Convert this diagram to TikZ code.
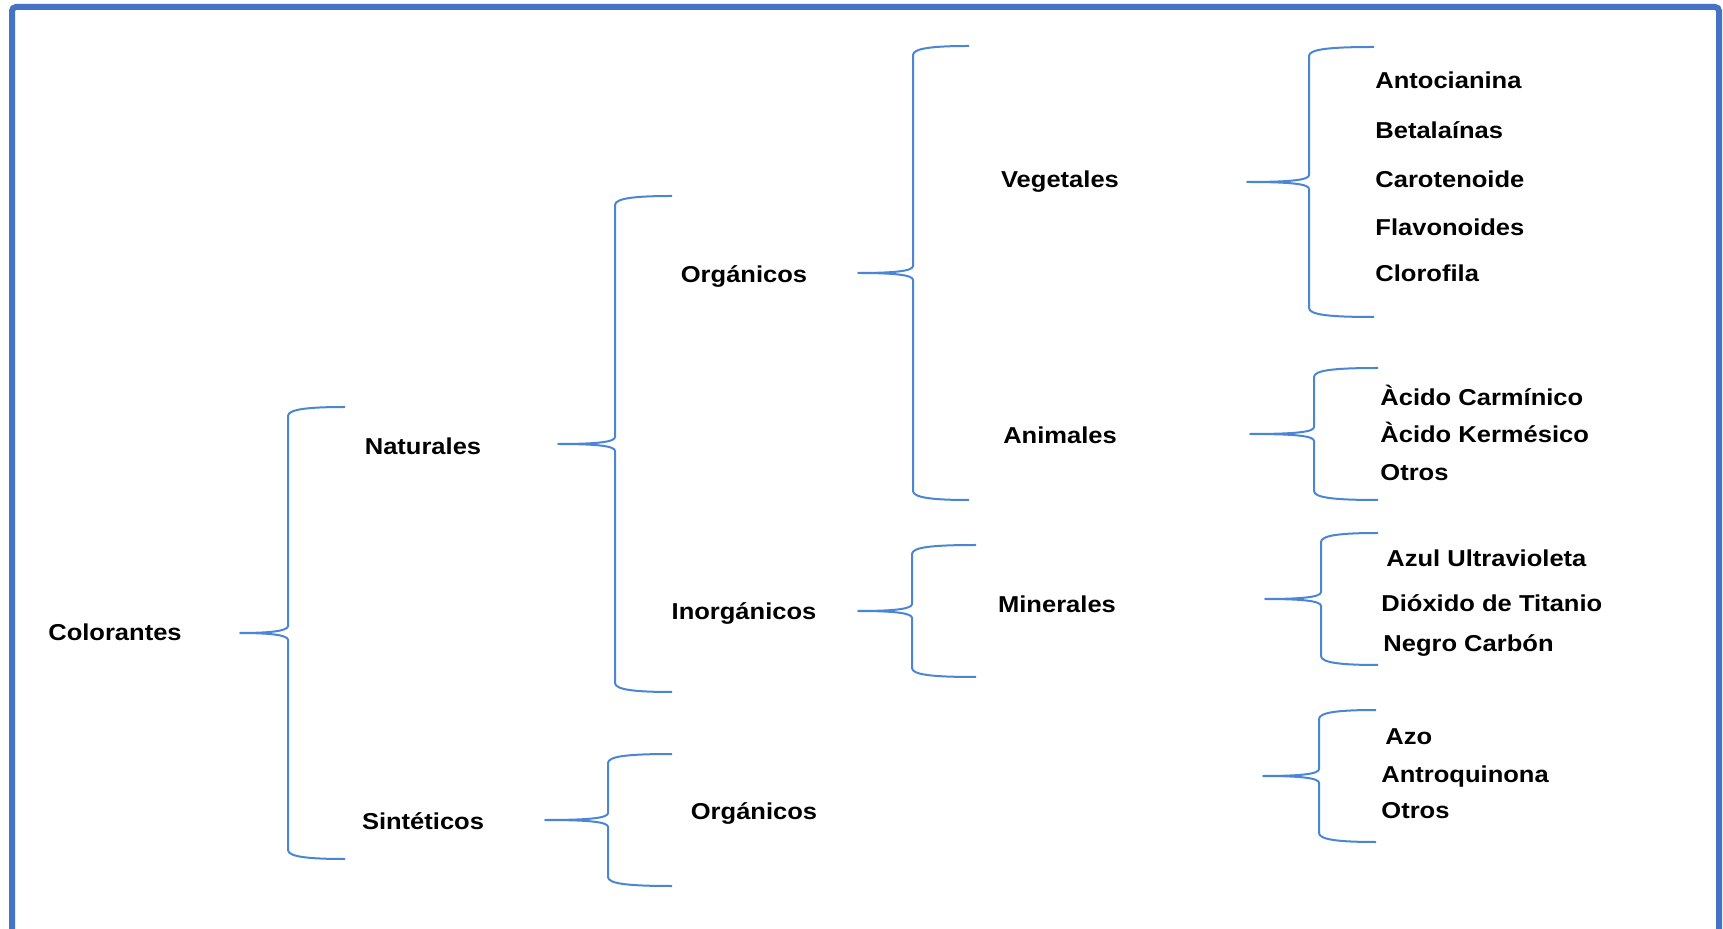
\documentclass[tikz,border=0pt]{standalone}
\usepackage{fontspec}
\setmainfont[FakeStretch=1.11]{Liberation Sans}
\usetikzlibrary{positioning,calc}

\definecolor{llavecolor}{RGB}{74,134,212}
\definecolor{marcocolor}{RGB}{68,114,196}

\tikzset{
  brace/.style={draw=llavecolor, line width=1pt, line join=round},
  txt/.style={inner sep=0pt, anchor=base, font=\fontsize{11.5}{14}\selectfont\bfseries},
  hoja/.style={txt, anchor=base west}
}

% #1 tip, #2 half height, #3 tip to spine, #4 spine to ends
\newcommand{\llave}[4]{%
  \draw[brace]
    ([shift={(#3+#4,-#2)}]#1) .. controls ([shift={(#3+22,-#2)}]#1) and ([shift={(#3,-#2+2)}]#1) .. ([shift={(#3,-#2+9)}]#1)
    -- ([shift={(#3,-7)}]#1) .. controls ([shift={(#3,-2)}]#1) and ([shift={(#3-18,0)}]#1) .. (#1)
    .. controls ([shift={(#3-18,0)}]#1) and ([shift={(#3,2)}]#1) .. ([shift={(#3,7)}]#1)
    -- ([shift={(#3,#2-9)}]#1) .. controls ([shift={(#3,#2-2)}]#1) and ([shift={(#3+22,#2)}]#1) .. ([shift={(#3+#4,#2)}]#1);}

\begin{document}
\begin{tikzpicture}[x=0.5pt, y=-0.5pt]
\useasboundingbox (0,0) rectangle (1723,929);
\clip (0,0) rectangle (1723,929);
\fill[white] (0,0) rectangle (1723,929);
\draw[marcocolor, line width=3pt, rounded corners=2pt] (12,7) rectangle (1719,980);

% tree
\node[txt] (colorantes)  at (115,641)  {Colorantes};
\node[txt] (naturales)   at (423,455)  {Naturales};
\node[txt] (sinteticos)  at (423,829)  {Sintéticos};
\node[txt] (organicos)   at (744,283)  {Orgánicos};
\node[txt] (inorganicos) at (744,620)  {Inorgánicos};
\node[txt] (organicosS)  at (754,819)  {Orgánicos};
\node[txt] (vegetales)   at (1060,188) {Vegetales};
\node[txt] (animales)    at (1060,444) {Animales};
\node[txt] (minerales)   at (1057,613) {Minerales};

\node[hoja] (antocianina) at (1375,89)  {Antocianina};
\node[hoja] (betalainas)  at (1375,139) {Betalaínas};
\node[hoja] (carotenoide) at (1375,188) {Carotenoide};
\node[hoja] (flavonoides) at (1375,236) {Flavonoides};
\node[hoja] (clorofila)   at (1375,282) {Clorofila};

\node[hoja] (carminico) at (1380,406) {Àcido Carmínico};
\node[hoja] (kermesico) at (1380,443) {Àcido Kermésico};
\node[hoja] (otrosA)    at (1380,481) {Otros};

\node[hoja] (azul)    at (1386,567) {Azul Ultravioleta};
\node[hoja] (dioxido) at (1381,612) {Dióxido de Titanio};
\node[hoja] (negro)   at (1383,652) {Negro Carbón};

\node[hoja] (azo)          at (1385,744) {Azo};
\node[hoja] (antroquinona) at (1381,782) {Antroquinona};
\node[hoja] (otrosS)       at (1381,818) {Otros};

% brace tips
\coordinate (tColor) at (240,633);
\coordinate (tNat)   at (558,444);
\coordinate (tSint)  at (545,820);
\coordinate (tOrg)   at (858,273);
\coordinate (tInorg) at (858,611);
\coordinate (tVeg)   at (1247,182);
\coordinate (tAnim)  at (1250,434);
\coordinate (tMin)   at (1265,599);
\coordinate (tSintO) at (1263,776);

\llave{tColor}{226}{48}{57}
\llave{tNat}{248}{57}{57}
\llave{tSint}{66}{63}{64}
\llave{tOrg}{227}{55}{56}
\llave{tInorg}{66}{54}{64}
\llave{tVeg}{135}{62}{65}
\llave{tAnim}{66}{64}{64}
\llave{tMin}{66}{56}{57}
\llave{tSintO}{66}{56}{57}
\end{tikzpicture}
\end{document}
